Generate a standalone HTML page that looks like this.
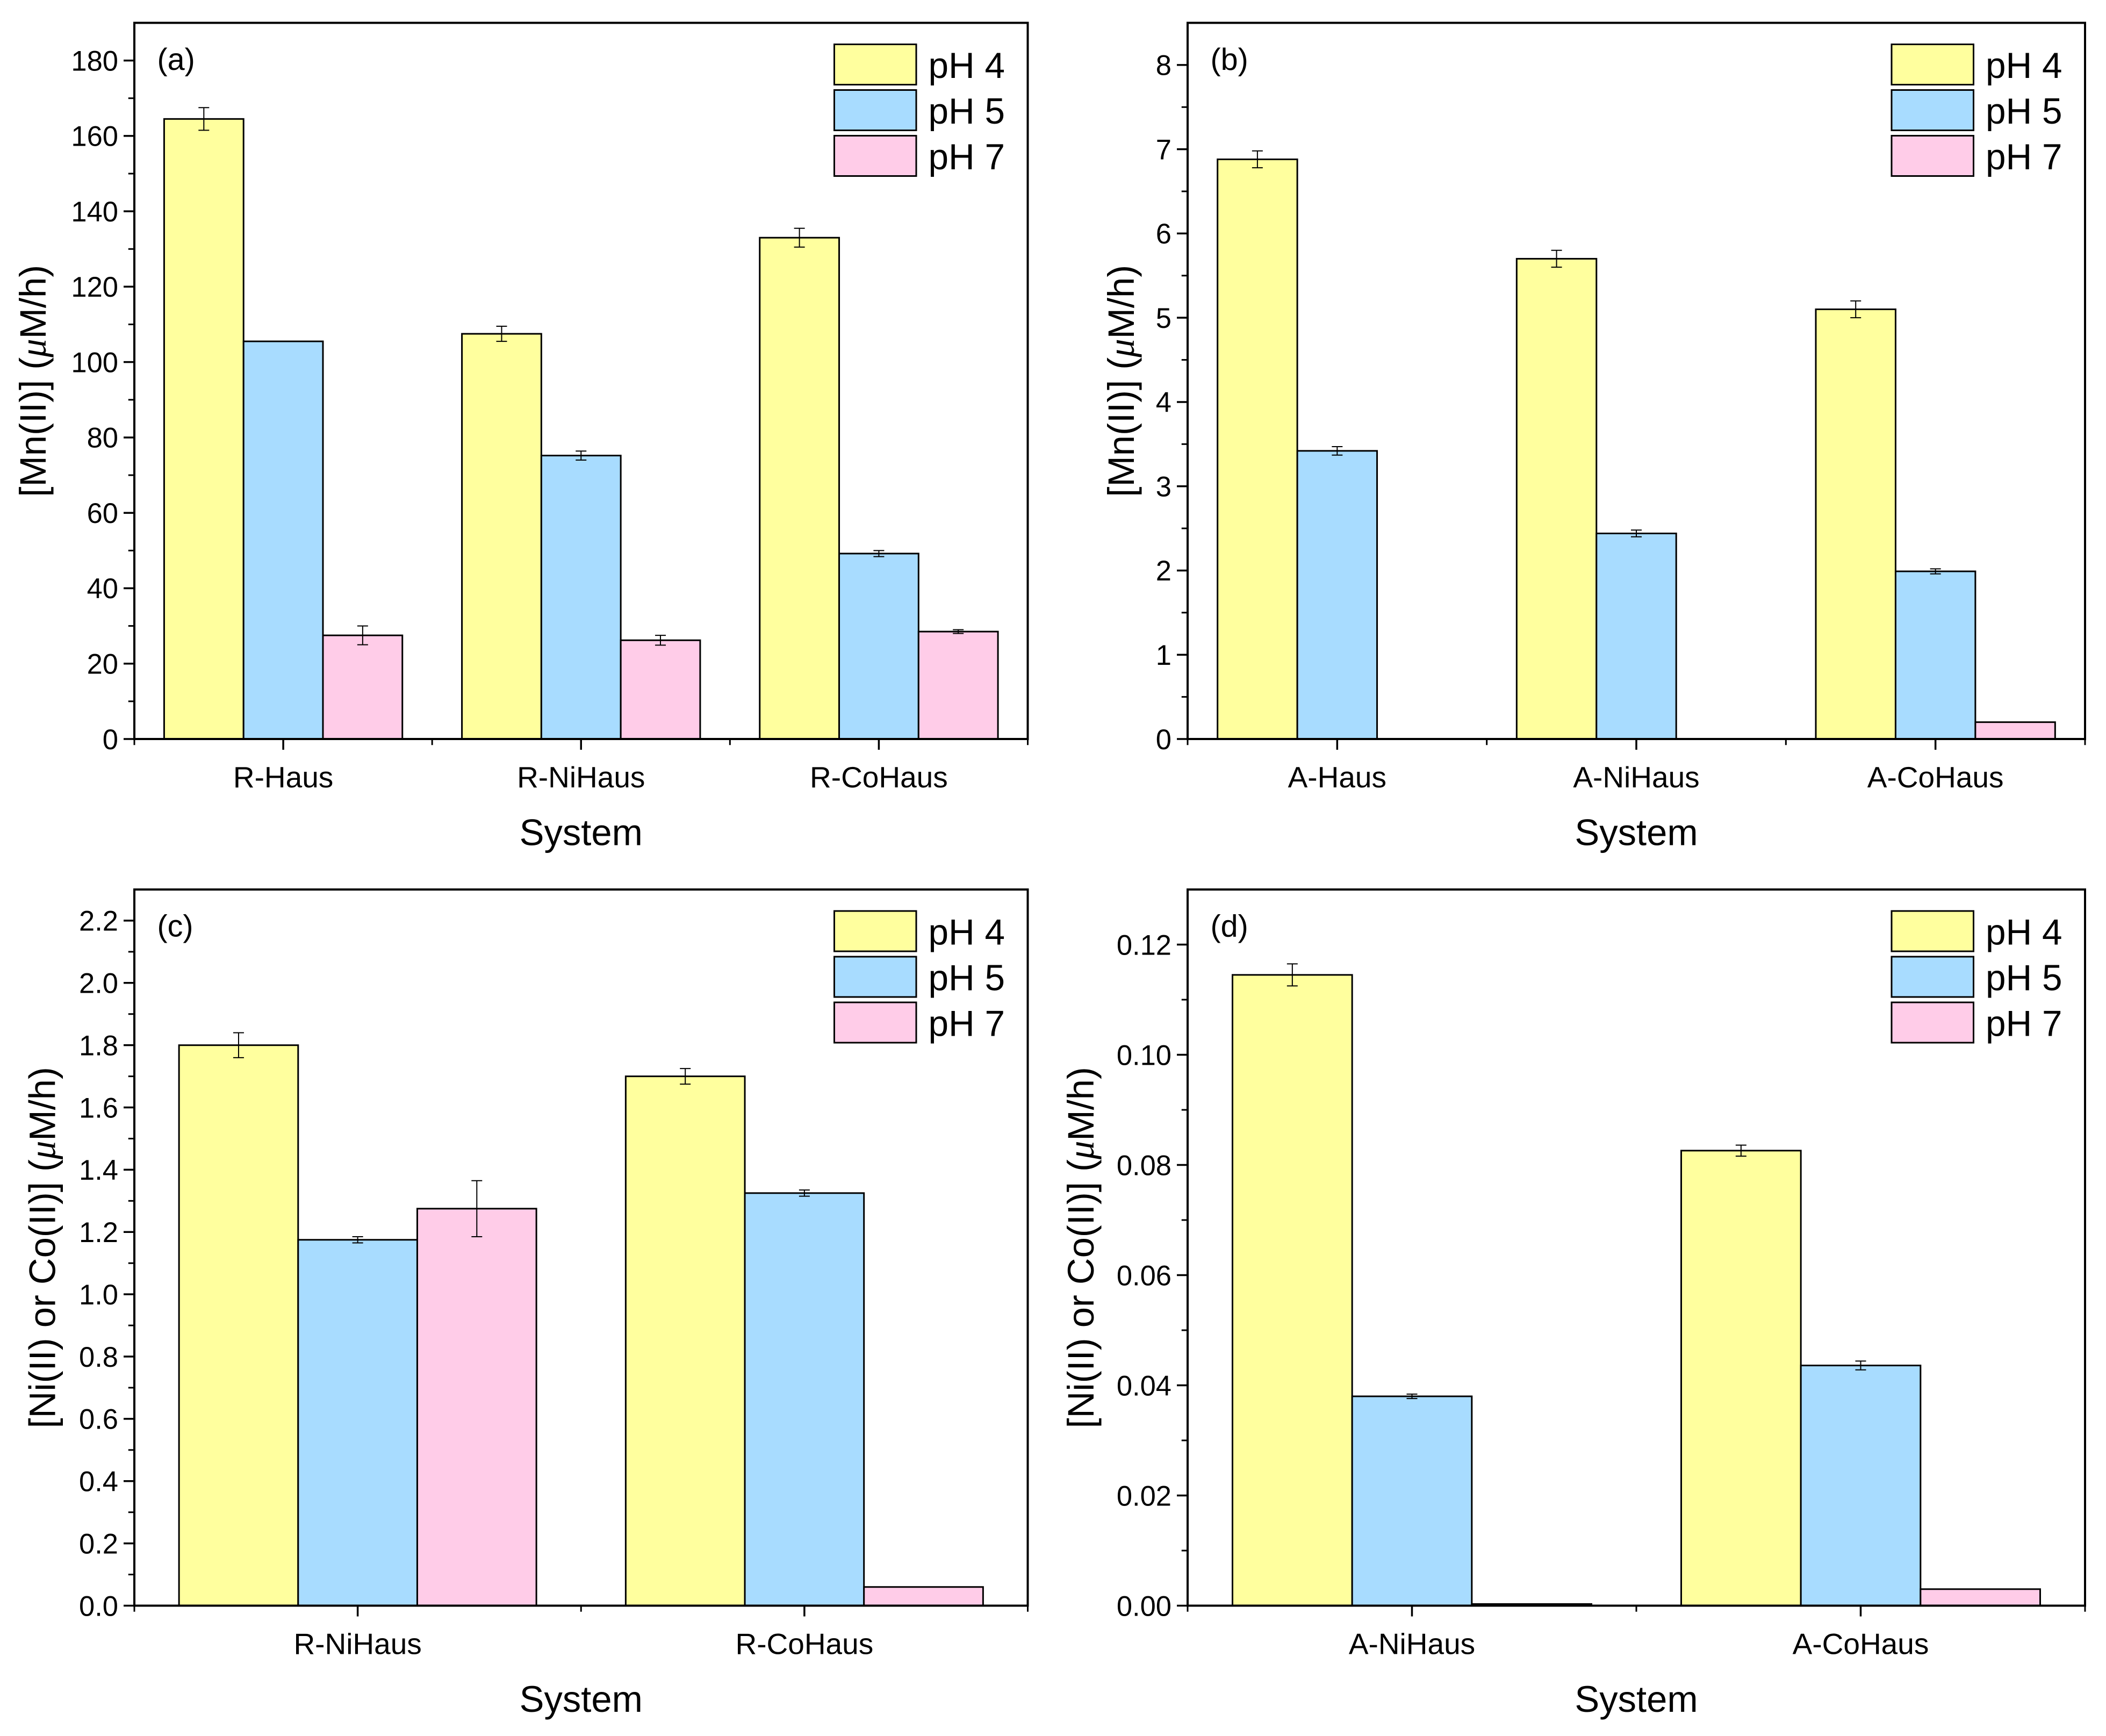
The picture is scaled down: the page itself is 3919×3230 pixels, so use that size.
<!DOCTYPE html>
<html><head><meta charset="utf-8"><style>
html,body{margin:0;padding:0;background:#fff}
svg{display:block}
text{font-family:"Liberation Sans",Arial,sans-serif;fill:#000}
</style></head><body>
<svg id="fig" width="3919" height="3230" viewBox="0 0 1567.6 1292" xmlns="http://www.w3.org/2000/svg"></svg>
<script>
// ---- data ----
const seriesNames = ["pH 4", "pH 5", "pH 7"];
const catsA = ["R-Haus", "R-NiHaus", "R-CoHaus"];
const a_pH4 = [164.5, 107.5, 133.0];
const a_pH5 = [105.5, 75.2, 49.2];
const a_pH7 = [27.5, 26.2, 28.5];
const a_err4 = [3.0, 2.0, 2.5];
const a_err5 = [0, 1.2, 0.8];
const a_err7 = [2.5, 1.3, 0.5];
const a_ticks = [0, 20, 40, 60, 80, 100, 120, 140, 160, 180];

const catsB = ["A-Haus", "A-NiHaus", "A-CoHaus"];
const b_pH4 = [6.88, 5.70, 5.10];
const b_pH5 = [3.42, 2.44, 1.99];
const b_pH7 = [0, 0, 0.2];
const b_err4 = [0.1, 0.1, 0.1];
const b_err5 = [0.05, 0.04, 0.03];
const b_err7 = [0, 0, 0];
const b_ticks = [0, 1, 2, 3, 4, 5, 6, 7, 8];

const catsC = ["R-NiHaus", "R-CoHaus"];
const c_pH4 = [1.80, 1.70];
const c_pH5 = [1.175, 1.325];
const c_pH7 = [1.275, 0.06];
const c_err4 = [0.04, 0.025];
const c_err5 = [0.01, 0.01];
const c_err7 = [0.09, 0];
const c_ticks = ["0.0","0.2","0.4","0.6","0.8","1.0","1.2","1.4","1.6","1.8","2.0","2.2"];

const catsD = ["A-NiHaus", "A-CoHaus"];
const d_pH4 = [0.1145, 0.0826];
const d_pH5 = [0.038, 0.0436];
const d_pH7 = [0.0003, 0.003];
const d_err4 = [0.002, 0.001];
const d_err5 = [0.0004, 0.0008];
const d_err7 = [0, 0];
const d_ticks = ["0.00","0.02","0.04","0.06","0.08","0.10","0.12"];

const colors = ["#ffff9e", "#a8dcff", "#ffcce8"];
const NS = "http://www.w3.org/2000/svg";
const svg = document.getElementById("fig");
function mk(tag, attrs, parent) {
  const e = document.createElementNS(NS, tag);
  for (const k in attrs) e.setAttribute(k, attrs[k]);
  (parent || svg).appendChild(e);
  return e;
}

function panel(p) {
  const g = mk("g", {});
  
  
  const {L, R, T, B, ymax} = p;
  const y = v => B - (v / ymax) * (B - T);
  const n = p.cats.length;
  const gw = (R - L) / n;
  const x = i => L + gw * (i + 0.5);
  const bw = gw * 0.8 / 3;
  const vals = [p.s4, p.s5, p.s7], errs = [p.e4, p.e5, p.e7];
  for (let s = 0; s < 3; s++) {
    for (let i = 0; i < n; i++) {
      const v = vals[s][i];
      if (v <= 0) continue;
      const x0 = x(i) - 1.5 * bw + s * bw;
      const r = mk("rect", {x: x0, y: y(v), width: bw, height: B - y(v), fill: colors[s], stroke: "#000", "stroke-width": 1.2}, g);
      
      
      const e = errs[s][i];
      if (e > 0) {
        const cx = x0 + bw / 2;
        const eb = mk("path", {d: `M${cx},${y(v + e)}V${y(v - e)}M${cx - 4},${y(v + e)}H${cx + 4}M${cx - 4},${y(v - e)}H${cx + 4}`, stroke: "#000", "stroke-width": 0.8, fill: "none"}, g);
        
        
      }
    }
  }
  const fr = mk("rect", {x: L, y: T, width: R - L, height: B - T, fill: "none", stroke: "#000", "stroke-width": 1.6}, g);
  
  
  const step = p.tickVals[1] - p.tickVals[0];
  for (let k = 0; k < p.tickVals.length; k++) {
    const tv = p.tickVals[k];
    mk("line", {x1: L - 8, x2: L, y1: y(tv), y2: y(tv), stroke: "#000", "stroke-width": 1.4}, g);
    const tl = mk("text", {x: L - 12, y: y(tv) + 7.5, "text-anchor": "end", "font-size": 21}, g);
    tl.textContent = p.tickLabels[k];
    
    
    const mv = tv + step / 2;
    if (mv < ymax) mk("line", {x1: L - 4.5, x2: L, y1: y(mv), y2: y(mv), stroke: "#000", "stroke-width": 1.2}, g);
  }
  for (let i = 0; i < n; i++) {
    mk("line", {x1: x(i), x2: x(i), y1: B, y2: B + 8, stroke: "#000", "stroke-width": 1.4}, g);
    const xl = mk("text", {x: x(i), y: B + 36, "text-anchor": "middle", "font-size": 22}, g);
    xl.textContent = p.cats[i];
    
    
  }
  for (let i = 0; i <= n; i++) {
    mk("line", {x1: L + gw * i, x2: L + gw * i, y1: B, y2: B + 4.5, stroke: "#000", "stroke-width": 1.2}, g);
  }
  const xt = mk("text", {x: (L + R) / 2, y: B + 79, "text-anchor": "middle", "font-size": 27.5}, g);
  xt.textContent = "System";
  
  
  const yt = mk("text", {x: 0, y: 0, "text-anchor": "middle", "font-size": 27.5, transform: `translate(${p.ytx},${(T + B) / 2}) rotate(-90)`}, g);
  yt.innerHTML = p.ytitle + ' (<tspan font-style="italic" font-family="Liberation Serif, serif">μ</tspan>M/h)';
  
  
  const pl = mk("text", {x: L + 17, y: T + 35, "font-size": 23}, g);
  pl.textContent = "(" + p.id + ")";
  
  
  const lx = R - 144;
  for (let s = 0; s < 3; s++) {
    const ly = T + 16 + s * 34;
    const lr = mk("rect", {x: lx, y: ly, width: 61, height: 30, fill: colors[s], stroke: "#000", "stroke-width": 1.2}, g);
    
    
    const lt = mk("text", {x: lx + 70, y: ly + 25, "font-size": 27}, g);
    lt.textContent = seriesNames[s];
    
    
  }
}

panel({id: "a", L: 100, R: 765, T: 17, B: 550, ymax: 190, cats: catsA, s4: a_pH4, s5: a_pH5, s7: a_pH7, e4: a_err4, e5: a_err5, e7: a_err7,
  tickVals: a_ticks, tickLabels: a_ticks.map(String), ytitle: "[Mn(II)]", ytx: 34});
panel({id: "b", L: 884, R: 1552, T: 17, B: 550, ymax: 8.5, cats: catsB, s4: b_pH4, s5: b_pH5, s7: b_pH7, e4: b_err4, e5: b_err5, e7: b_err7,
  tickVals: b_ticks, tickLabels: b_ticks.map(String), ytitle: "[Mn(II)]", ytx: 844});
panel({id: "c", L: 100, R: 765, T: 662, B: 1195, ymax: 2.3, cats: catsC, s4: c_pH4, s5: c_pH5, s7: c_pH7, e4: c_err4, e5: c_err5, e7: c_err7,
  tickVals: c_ticks.map(Number), tickLabels: c_ticks, ytitle: "[Ni(II) or Co(II)]", ytx: 41});
panel({id: "d", L: 884, R: 1552, T: 662, B: 1195, ymax: 0.13, cats: catsD, s4: d_pH4, s5: d_pH5, s7: d_pH7, e4: d_err4, e5: d_err5, e7: d_err7,
  tickVals: d_ticks.map(Number), tickLabels: d_ticks, ytitle: "[Ni(II) or Co(II)]", ytx: 814});
</script>
</body></html>
